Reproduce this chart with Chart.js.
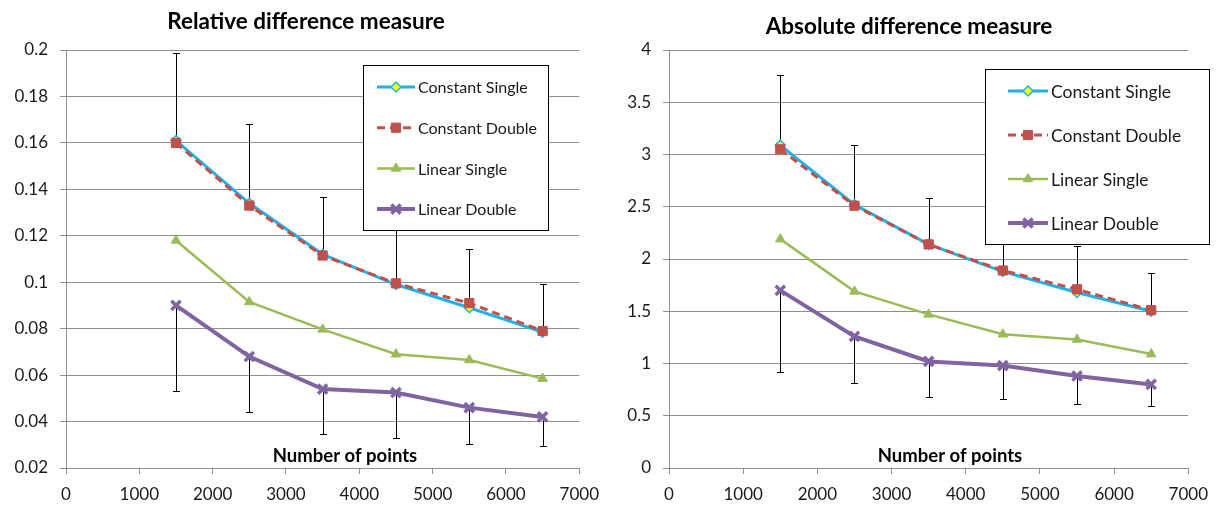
<!DOCTYPE html>
<html>
<head>
<meta charset="utf-8">
<script src="https://cdn.jsdelivr.net/npm/chart.js@4.4.1/dist/chart.umd.min.js"></script>
<style>
  html, body { margin: 0; padding: 0; background: #fff; }
  canvas { position: absolute; top: 0; }
  #relChart { left: 0; }
  #absChart { left: 609px; }
</style>
</head>
<body>
<canvas id="relChart" width="609" height="507"></canvas>
<canvas id="absChart" width="609" height="507"></canvas>
<script>
// x values (number of points)
const points = [1500, 2500, 3500, 4500, 5500, 6500];
const seriesNames = ['Constant Single', 'Constant Double', 'Linear Single', 'Linear Double'];

// relative difference measure
const relConstSingle = [0.161, 0.134, 0.112, 0.099, 0.089, 0.0785];
const relConstDouble = [0.160, 0.133, 0.1115, 0.0995, 0.091, 0.079];
const relLinSingle   = [0.118, 0.0915, 0.0797, 0.069, 0.0665, 0.0585];
const relLinDouble   = [0.090, 0.068, 0.054, 0.0525, 0.046, 0.042];
const relUpperEnds   = [0.1985, 0.168, 0.1368, 0.125, 0.1145, 0.0992];
const relLowerEnds   = [0.0533, 0.0439, 0.0346, 0.0331, 0.0304, 0.0293];

// absolute difference measure
const absConstSingle = [3.09, 2.52, 2.14, 1.88, 1.68, 1.50];
const absConstDouble = [3.05, 2.51, 2.14, 1.89, 1.71, 1.51];
const absLinSingle   = [2.19, 1.69, 1.47, 1.28, 1.23, 1.09];
const absLinDouble   = [1.70, 1.26, 1.02, 0.98, 0.88, 0.80];
const absUpperEnds   = [3.76, 3.09, 2.58, 2.30, 2.12, 1.87];
const absLowerEnds   = [0.92, 0.81, 0.68, 0.66, 0.61, 0.59];

// tick labels
const xTicks = [0, 1000, 2000, 3000, 4000, 5000, 6000, 7000];
const relYTicks = [0.02, 0.04, 0.06, 0.08, 0.1, 0.12, 0.14, 0.16, 0.18, 0.2];
const absYTicks = [0, 0.5, 1, 1.5, 2, 2.5, 3, 3.5, 4];

const seriesStyles = [
  { borderColor: '#1fb2e6', borderWidth: 3, pointStyle: 'rectRot', pointRadius: 5,
    pointBackgroundColor: '#ffff00', pointBorderColor: '#1fb2e6', pointBorderWidth: 1.5, order: 4 },
  { borderColor: '#c0504d', borderWidth: 3, borderDash: [8, 5], pointStyle: 'rect', pointRadius: 6.5,
    pointBackgroundColor: '#c0504d', pointBorderColor: '#c0504d', pointBorderWidth: 1, order: 3 },
  { borderColor: '#9bbb59', borderWidth: 2.5, pointStyle: 'triangle', pointRadius: 5.5,
    pointBackgroundColor: '#9bbb59', pointBorderColor: '#9bbb59', pointBorderWidth: 1, order: 2 },
  { borderColor: '#8064a2', borderWidth: 4, pointStyle: 'crossRot', pointRadius: 6.5,
    pointBackgroundColor: '#8064a2', pointBorderColor: '#8064a2', pointBorderWidth: 3.5, order: 1 }
];

const gridColor = '#8f8f8f';
const textColor = '#1a1a1a';

const decorPlugin = {
  id: 'decor',
  beforeDatasetsDraw(chart, args, opts) {
    const { ctx, scales: { x, y } } = chart;
    ctx.save();
    ctx.strokeStyle = '#000';
    ctx.lineWidth = 1;
    opts.errorBars.forEach(eb => {
      chart.data.datasets[eb.dataset].data.forEach((p, i) => {
        const px = Math.round(x.getPixelForValue(p.x)) + 0.5;
        const y0 = y.getPixelForValue(p.y);
        const y1 = Math.round(y.getPixelForValue(eb.ends[i])) + 0.5;
        ctx.beginPath();
        ctx.moveTo(px, y0);
        ctx.lineTo(px, y1);
        ctx.moveTo(px - 3.5, y1);
        ctx.lineTo(px + 3.5, y1);
        ctx.stroke();
      });
    });
    ctx.restore();
  },
  afterDraw(chart, args, opts) {
    const ctx = chart.ctx;
    ctx.save();
    ctx.fillStyle = '#000';
    ctx.textAlign = 'center';
    ctx.textBaseline = 'middle';
    ctx.font = 'bold 22.5px Lato';
    ctx.fillText(opts.title, opts.titleX, opts.titleY);
    ctx.font = 'bold 18.5px Lato';
    ctx.fillText(opts.xTitle, opts.xTitleX, opts.xTitleY);

    // legend box inside the plot
    const L = opts.legend;
    ctx.fillStyle = '#fff';
    ctx.fillRect(L.x, L.y, L.w, L.h);
    ctx.strokeStyle = '#000';
    ctx.lineWidth = 1;
    ctx.strokeRect(L.x + 0.5, L.y + 0.5, L.w, L.h);
    ctx.textAlign = 'left';
    ctx.font = L.font + 'px Lato';
    chart.data.datasets.forEach((ds, i) => {
      const cy = L.y + L.first + i * L.step;
      ctx.strokeStyle = ds.borderColor;
      ctx.lineWidth = ds.borderWidth;
      ctx.setLineDash(ds.borderDash || []);
      ctx.beginPath();
      ctx.moveTo(L.x + L.lineX0, cy);
      ctx.lineTo(L.x + L.lineX1, cy);
      ctx.stroke();
      ctx.setLineDash([]);
      ctx.fillStyle = ds.pointBackgroundColor;
      ctx.strokeStyle = ds.pointBorderColor;
      ctx.lineWidth = ds.pointBorderWidth;
      Chart.helpers.drawPoint(ctx, {
        pointStyle: ds.pointStyle, radius: ds.pointRadius,
        borderWidth: ds.pointBorderWidth, rotation: 0
      }, L.x + (L.lineX0 + L.lineX1) / 2, cy);
      ctx.fillStyle = textColor;
      ctx.fillText(ds.label, L.x + L.textX, cy + 1);
    });
    ctx.restore();
  }
};

function makeChart(id, series, yMin, yMax, yTicks, yWidth, padRight, decor) {
  const datasets = series.map((vals, i) => Object.assign({
    label: seriesNames[i],
    data: points.map((x, j) => ({ x: x, y: vals[j] })),
    tension: 0,
    fill: false
  }, seriesStyles[i]));

  return new Chart(document.getElementById(id), {
    type: 'line',
    data: { datasets: datasets },
    plugins: [decorPlugin],
    options: {
      responsive: false,
      animation: false,
      devicePixelRatio: 1,
      layout: { padding: { top: 50, right: padRight, left: 0, bottom: 0 } },
      plugins: {
        legend: { display: false },
        title: { display: false },
        tooltip: { enabled: false },
        decor: decor
      },
      scales: {
        x: {
          type: 'linear', min: 0, max: 7000,
          afterBuildTicks: s => { s.ticks = xTicks.map(v => ({ value: v })); },
          afterFit: s => { s.height = 39; },
          grid: { drawOnChartArea: false, drawTicks: true, tickLength: 6, color: gridColor },
          border: { color: gridColor },
          ticks: { padding: 10, color: textColor, font: { family: 'Lato', size: 17 },
                   maxRotation: 0, autoSkip: false, callback: v => String(v) }
        },
        y: {
          type: 'linear', min: yMin, max: yMax,
          afterBuildTicks: s => { s.ticks = yTicks.map(v => ({ value: v })); },
          afterFit: s => { s.width = yWidth; },
          grid: { color: gridColor, tickLength: 6 },
          border: { color: gridColor },
          ticks: { padding: 12, color: textColor, font: { family: 'Lato', size: 17 },
                   callback: v => String(v) }
        }
      }
    }
  });
}

makeChart('relChart',
  [relConstSingle, relConstDouble, relLinSingle, relLinDouble],
  0.02, 0.2, relYTicks, 66, 23,
  {
    title: 'Relative difference measure', titleX: 306, titleY: 22,
    xTitle: 'Number of points', xTitleX: 345, xTitleY: 456,
    errorBars: [{ dataset: 0, ends: relUpperEnds }, { dataset: 3, ends: relLowerEnds }],
    legend: { x: 363, y: 65, w: 185, h: 165, first: 22, step: 40.7,
              lineX0: 14, lineX1: 52, textX: 55, font: 16 }
  });

makeChart('absChart',
  [absConstSingle, absConstDouble, absLinSingle, absLinDouble],
  0, 4, absYTicks, 60, 28,
  {
    title: 'Absolute difference measure', titleX: 300, titleY: 27,
    xTitle: 'Number of points', xTitleX: 341, xTitleY: 456,
    errorBars: [{ dataset: 0, ends: absUpperEnds }, { dataset: 3, ends: absLowerEnds }],
    legend: { x: 376, y: 69, w: 224, h: 175, first: 22, step: 44,
              lineX0: 23, lineX1: 63, textX: 66, font: 17.5 }
  });
</script>
</body>
</html>
